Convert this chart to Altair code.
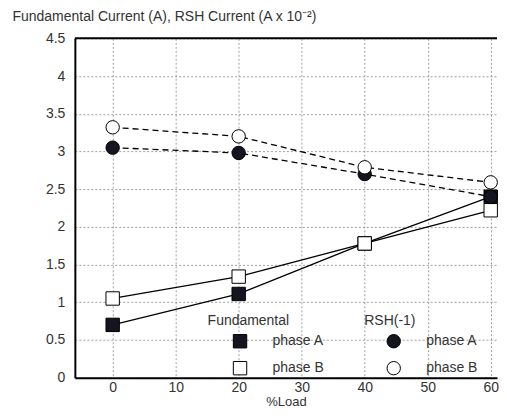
import altair as alt
import pandas as pd

load = [0, 20, 40, 60]
fund_a = [0.70, 1.11, 1.78, 2.40]
fund_b = [1.05, 1.34, 1.78, 2.22]
rsh_a = [3.05, 2.98, 2.70, 2.40]
rsh_b = [3.32, 3.20, 2.79, 2.59]
phases = ["phase A", "phase B"]
x_ticks = [0, 10, 20, 30, 40, 50, 60]
y_ticks = [0, 0.5, 1, 1.5, 2, 2.5, 3, 3.5, 4, 4.5]

fund = pd.DataFrame({"load": load * 2, "value": fund_a + fund_b,
                     "phase": [phases[0]] * 4 + [phases[1]] * 4})
rsh = pd.DataFrame({"load": load * 2, "value": rsh_a + rsh_b,
                    "phase": [phases[0]] * 4 + [phases[1]] * 4})
frame = pd.DataFrame({"value": [y_ticks[-1]]})

FONT = "Liberation Sans"
TXT = "#333333"

x = alt.X("load:Q", scale=alt.Scale(domain=[-6, 61], nice=False, zero=False),
          axis=alt.Axis(values=x_ticks, title="%Load", labelPadding=3,
                        titleBaseline="alphabetic", titleY=28, titleFontSize=13))
y = alt.Y("value:Q", scale=alt.Scale(domain=[0, 4.5], nice=False),
          axis=alt.Axis(values=y_ticks, format="~g",
                        title="Fundamental Current (A), RSH Current (A x 10⁻²)",
                        titleAngle=0, titleAlign="left", titleBaseline="alphabetic",
                        titleX=-63, titleY=-18, labelPadding=10))

leg_common = dict(orient="none", titleFontSize=14, labelFontSize=14, titleFontWeight="normal",
                  titleFont=FONT, labelFont=FONT, titleColor=TXT, labelColor=TXT,
                  rowPadding=8, titlePadding=6, symbolStrokeColor="black", symbolStrokeWidth=1)

top_frame = alt.Chart(frame).mark_rule(color="black", strokeWidth=2).encode(y=y)

fund_line = alt.Chart(fund).mark_line(color="black", strokeWidth=1.3).encode(x=x, y=y, detail="phase:N")
rsh_line = alt.Chart(rsh).mark_line(color="black", strokeWidth=1.3, strokeDash=[6, 4]).encode(
    x=x, y=y, detail="phase:N")

fund_pts = alt.Chart(fund).mark_point(shape="square", size=180, filled=True, opacity=1,
                                      stroke="black", strokeWidth=1).encode(
    x=x, y=y,
    fill=alt.Fill("phase:N", scale=alt.Scale(domain=phases, range=["#15151f", "#ffffff"]),
                  legend=alt.Legend(title="Fundamental", legendX=133, legendY=276,
                                    symbolType="square", symbolSize=180,
                                    symbolOffset=25, labelOffset=25, **leg_common)))
rsh_pts = alt.Chart(rsh).mark_point(shape="circle", size=180, filled=True, opacity=1,
                                    stroke="black", strokeWidth=1).encode(
    x=x, y=y,
    fill=alt.Fill("phase:N", scale=alt.Scale(domain=phases, range=["#15151f", "#ffffff"]),
                  legend=alt.Legend(title="RSH(-1)", legendX=290, legendY=276,
                                    symbolType="circle", symbolSize=180,
                                    symbolOffset=22, labelOffset=25, **leg_common)))

chart = alt.layer(top_frame, fund_line, rsh_line, fund_pts, rsh_pts).resolve_scale(fill="independent").properties(
    width=423, height=340,
    autosize=alt.AutoSizeParams(type="none"),
    padding={"left": 67, "top": 30, "right": 2, "bottom": 32},
).configure_view(stroke=None).configure_axis(
    grid=True, gridColor="#888888", gridDash=[2, 2], gridWidth=0.8,
    domainColor="black", domainWidth=2, ticks=False,
    labelFont=FONT, labelFontSize=14, labelColor=TXT,
    titleFont=FONT, titleFontSize=14, titleColor=TXT, titleFontWeight="normal",
)

chart.save("out.html", embed_options={"renderer": "svg", "actions": False})
